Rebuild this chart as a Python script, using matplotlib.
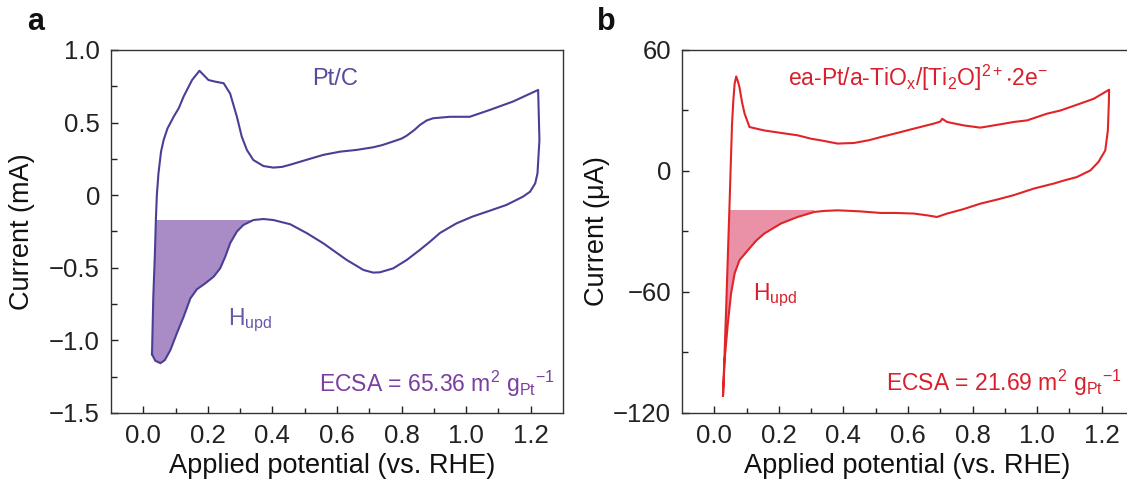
import numpy as np
import matplotlib
matplotlib.use("Agg")
import matplotlib.pyplot as plt
from matplotlib.patches import Rectangle

plt.rcParams['font.family'] = ['Liberation Sans', 'DejaVu Sans']
plt.rcParams['mathtext.fontset'] = 'custom'
plt.rcParams['mathtext.rm'] = 'Liberation Sans'
plt.rcParams['mathtext.it'] = 'Liberation Sans:italic'
plt.rcParams['mathtext.bf'] = 'Liberation Sans:bold'
plt.rcParams['mathtext.default'] = 'regular'
plt.rcParams['axes.unicode_minus'] = True

# ---------------- data: panel a (Pt/C), current in mA ----------------
a_anodic_x = [0.027, 0.031, 0.036, 0.039, 0.042, 0.047, 0.055, 0.063, 0.075, 0.094, 0.110,
              0.125, 0.151, 0.174, 0.202, 0.223, 0.249, 0.269, 0.290, 0.305, 0.321, 0.341,
              0.372, 0.403, 0.430, 0.455, 0.500, 0.558, 0.610, 0.661, 0.712, 0.740, 0.774,
              0.800, 0.816, 0.840, 0.857, 0.878, 0.898, 0.950, 1.011, 1.073, 1.145, 1.223]
a_anodic_y = [-1.095, -0.70, -0.40, -0.17, 0.00, 0.15, 0.30, 0.38, 0.46, 0.54, 0.60,
              0.68, 0.793, 0.857, 0.793, 0.782, 0.771, 0.70, 0.54, 0.403, 0.311, 0.242,
              0.201, 0.19, 0.195, 0.21, 0.24, 0.278, 0.30, 0.312, 0.33, 0.345, 0.37,
              0.39, 0.41, 0.45, 0.484, 0.515, 0.53, 0.54, 0.54, 0.587, 0.645, 0.725]
a_cathodic_x = [1.223, 1.227, 1.221, 1.214, 1.198, 1.176, 1.125, 1.073, 1.020, 0.970, 0.919,
                0.888, 0.857, 0.816, 0.774, 0.733, 0.712, 0.682, 0.630, 0.558, 0.507, 0.455,
                0.403, 0.372, 0.341, 0.310, 0.290, 0.269, 0.254, 0.238, 0.218, 0.192, 0.166,
                0.146, 0.125, 0.104, 0.084, 0.067, 0.053, 0.037, 0.027]
a_cathodic_y = [0.725, 0.38, 0.151, 0.082, 0.024, -0.01, -0.067, -0.107, -0.147, -0.194, -0.26,
                -0.32, -0.376, -0.446, -0.504, -0.531, -0.533, -0.515, -0.446, -0.332, -0.262, -0.20,
                -0.171, -0.164, -0.171, -0.205, -0.25, -0.331, -0.423, -0.504, -0.561, -0.607, -0.648,
                -0.71, -0.837, -0.951, -1.066, -1.135, -1.157, -1.14, -1.095]
a_hupd_base = -0.17
a_hupd_xmax = 0.345

# ---------------- data: panel b (ea-Pt/a-TiOx/[Ti2O]2+.2e-), current in uA ----------------
b_anodic_x = [0.027, 0.032, 0.037, 0.042, 0.047, 0.051, 0.055, 0.059, 0.063, 0.068, 0.073,
              0.078, 0.086, 0.094, 0.109, 0.155, 0.210, 0.258, 0.300, 0.330, 0.382, 0.433,
              0.480, 0.515, 0.570, 0.618, 0.680, 0.700, 0.706, 0.721, 0.773, 0.824, 0.880,
              0.927, 0.969, 1.030, 1.072, 1.133, 1.175, 1.223]
b_anodic_y = [-111.5, -90, -67, -42, -18, 3, 23.5, 35, 43.3, 46.9, 44.5,
              41.6, 34, 28.4, 21.8, 20.1, 18.8, 17.7, 16, 15.2, 13.6, 13.9,
              15.3, 16.8, 19, 21, 23.5, 24.5, 25.9, 24.3, 22.6, 21.5, 23,
              24.3, 25.1, 28.4, 30, 33.4, 35.8, 40.3]
b_cathodic_x = [1.223, 1.222, 1.219, 1.211, 1.190, 1.165, 1.123, 1.081, 1.052, 0.990, 0.927,
                0.880, 0.824, 0.770, 0.721, 0.690, 0.660, 0.618, 0.560, 0.515, 0.450, 0.382,
                0.340, 0.310, 0.258, 0.207, 0.155, 0.130, 0.104, 0.078, 0.063, 0.052, 0.042,
                0.032, 0.027]
b_cathodic_y = [40.3, 33.4, 20.1, 10.2, 4.5, 0.3, -3, -4.8, -6.2, -8.7, -12,
                -14, -16.2, -19, -21.1, -22.8, -22, -21.1, -20.8, -20.8, -20, -19.5,
                -19.8, -20.3, -22.8, -26, -31, -34.5, -39.3, -44.2, -50.8, -60.7, -75.5,
                -93.7, -111.5]
b_hupd_base = -19.5
b_hupd_xmax = 0.31

x_ticks = [0.0, 0.2, 0.4, 0.6, 0.8, 1.0, 1.2]
a_yticks = [1.0, 0.5, 0, -0.5, -1.0, -1.5]
a_yticklabels = ['1.0', '0.5', '0', '\u22120.5', '\u22121.0', '\u22121.5']
b_yticks = [60, 0, -60, -120]
b_yticklabels = ['60', '0', '\u221260', '\u2212120']

# ---------------- figure ----------------
W, H = 1127, 487
fig = plt.figure(figsize=(W / 100, H / 100), dpi=100)

def px_ax(l, t, r, b):
    return [l / W, 1 - b / H, (r - l) / W, (b - t) / H]

axA = fig.add_axes(px_ax(111, 50, 563, 413))
axB = fig.add_axes(px_ax(682, 50, 1134, 413))

def style(ax, ylim, yticks, ylabels, yminor, ylabel):
    ax.set_xlim(-0.1, 1.3)
    ax.set_ylim(*ylim)
    ax.set_xticks(x_ticks)
    ax.set_xticklabels([f'{v:.1f}' for v in x_ticks])
    ax.set_xticks(np.arange(0.1, 1.3, 0.2), minor=True)
    ax.set_yticks(yticks)
    ax.set_yticklabels(ylabels)
    ax.set_yticks(yminor, minor=True)
    ax.tick_params(which='both', direction='in', top=False, right=False,
                   labelsize=18.5, colors='#222222', width=1.0)
    ax.tick_params(axis='x', which='major', length=5, pad=8)
    ax.tick_params(axis='x', which='minor', length=3.5)
    ax.tick_params(axis='y', which='major', length=5, pad=8)
    ax.tick_params(axis='y', which='minor', length=4)
    for s in ax.spines.values():
        s.set_color('#333333')
        s.set_linewidth(1.0)
    ax.set_xlabel('Applied potential (vs. RHE)', fontsize=19.5, color='#111111')
    ax.set_ylabel(ylabel, fontsize=19.5, color='#111111')

def draw(ax, ax_x, ax_y, ca_x, ca_y, base, xmax, lc, fc, falpha):
    loop_x = list(ax_x) + list(ca_x[1:])
    loop_y = list(ax_y) + list(ca_y[1:])
    patch = ax.fill(loop_x, loop_y, color=fc, alpha=falpha, lw=0, zorder=1)[0]
    y0 = ax.get_ylim()[0]
    clip = Rectangle((-0.1, y0), xmax + 0.1, base - y0, transform=ax.transData)
    patch.set_clip_path(clip)
    ax.plot(loop_x, loop_y, color=lc, lw=1.5, zorder=3, solid_joinstyle='round')

# panel a
style(axA, (-1.5, 1.0), a_yticks, a_yticklabels, [0.75, 0.25, -0.25, -0.75, -1.25], 'Current (mA)')
draw(axA, a_anodic_x, a_anodic_y, a_cathodic_x, a_cathodic_y, a_hupd_base, a_hupd_xmax,
     '#4a3f95', '#a98bc6', 1.0)
axA.yaxis.set_label_coords(-0.168, 0.5)
axA.xaxis.set_label_coords(0.49, -0.11)
axA.text(0.594, 0.80, 'Pt/C', color='#5a4a9e', fontsize=17, ha='center', va='center')
axA.text(0.262, -0.86, r'H$_{\rm upd}$', color='#6a58a6', fontsize=16.5, ha='left', va='center')
axA.text(1.275, -1.30, r'ECSA = 65.36 m$^2$ g$_{\rm Pt}{}^{-1}$', color='#7b3f9f', fontsize=16.5,
         ha='right', va='center')

# panel b
style(axB, (-120, 60), b_yticks, b_yticklabels, [30, -30, -90], 'Current (\u03bcA)')
draw(axB, b_anodic_x, b_anodic_y, b_cathodic_x, b_cathodic_y, b_hupd_base, b_hupd_xmax,
     '#e02428', '#e8859f', 0.9)
axB.yaxis.set_label_coords(-0.16, 0.5)
axB.xaxis.set_label_coords(0.498, -0.11)
axB.text(0.63, 46, r'ea-Pt/a-TiO$_x$/[Ti$_2$O]$^{2+}$$\cdot$2e$^{-}$', color='#d8202c', fontsize=16.5,
         ha='center', va='center')
axB.text(0.12, -61.5, r'H$_{\rm upd}$', color='#d8202c', fontsize=16.5, ha='left', va='center')
axB.text(1.262, -105, r'ECSA = 21.69 m$^2$ g$_{\rm Pt}{}^{-1}$', color='#d8202c', fontsize=16.5,
         ha='right', va='center')

fig.text(36 / W, 1 - 22 / H, 'a', fontsize=22, fontweight='bold', ha='center', va='center', color='#111111')
fig.text(606 / W, 1 - 22 / H, 'b', fontsize=22, fontweight='bold', ha='center', va='center', color='#111111')

fig.savefig('out.png', dpi=100)
